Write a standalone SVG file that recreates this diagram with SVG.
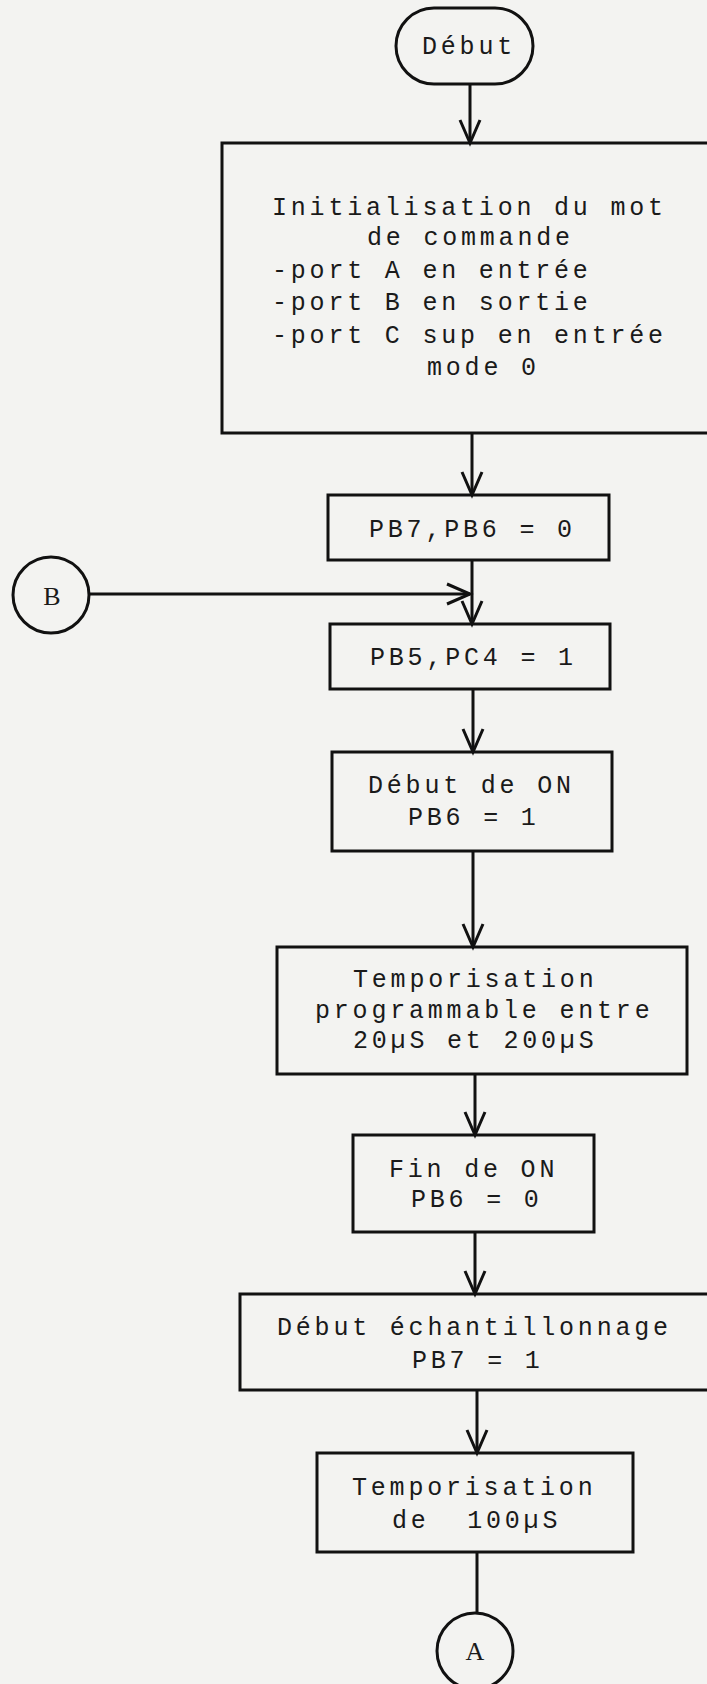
<svg xmlns="http://www.w3.org/2000/svg" width="707" height="1684" viewBox="0 0 707 1684">
<style>
.bx{fill:none;stroke:#111;stroke-width:3}
.cn{fill:none;stroke:#111;stroke-width:3}
.t{font-family:"Liberation Mono",monospace;font-size:25px;letter-spacing:3.8px;fill:#1a1a1a}
.c{font-family:"Liberation Serif",serif;font-size:26px;fill:#1a1a1a;text-anchor:middle}
</style>
<defs>
<marker id="ah" markerUnits="userSpaceOnUse" markerWidth="30" markerHeight="30" viewBox="-26 -13 30 26" refX="0" refY="0" orient="auto">
<path d="M-23,-10 L0,0 L-23,10" fill="none" stroke="#111" stroke-width="3"/>
</marker>
</defs>
<rect width="707" height="1684" fill="#f3f3f1"/>
<g id="connectors">
<line class="cn" x1="470" y1="84" x2="470" y2="143" marker-end="url(#ah)"/>
<line class="cn" x1="472" y1="433" x2="472" y2="495" marker-end="url(#ah)"/>
<line class="cn" x1="472" y1="560" x2="472" y2="624" marker-end="url(#ah)"/>
<line class="cn" x1="89" y1="594" x2="470" y2="594" marker-end="url(#ah)"/>
<line class="cn" x1="473" y1="689" x2="473" y2="752" marker-end="url(#ah)"/>
<line class="cn" x1="473" y1="851" x2="473" y2="947" marker-end="url(#ah)"/>
<line class="cn" x1="475" y1="1074" x2="475" y2="1135" marker-end="url(#ah)"/>
<line class="cn" x1="475" y1="1232" x2="475" y2="1294" marker-end="url(#ah)"/>
<line class="cn" x1="477" y1="1390" x2="477" y2="1453" marker-end="url(#ah)"/>
<line class="cn" x1="477" y1="1552" x2="477" y2="1613"/>
</g>
<g id="debut">
<rect class="bx" x="396" y="8" width="137" height="76" rx="38"/>
<text class="t" x="422" y="54">Début</text>
</g>
<g id="init">
<rect class="bx" x="222" y="143" width="500" height="290"/>
<text class="t" x="272" y="215">Initialisation du mot</text>
<text class="t" x="367" y="245">de commande</text>
<text class="t" x="272" y="278">-port A en entrée</text>
<text class="t" x="272" y="310">-port B en sortie</text>
<text class="t" x="272" y="343">-port C sup en entrée</text>
<text class="t" x="427" y="375">mode 0</text>
</g>
<g id="pb7pb6">
<rect class="bx" x="328" y="495" width="281" height="65"/>
<text class="t" x="369" y="537">PB7,PB6 = 0</text>
</g>
<g id="connB">
<circle class="bx" cx="51" cy="595" r="38"/>
<text class="c" x="52" y="605">B</text>
</g>
<g id="pb5pc4">
<rect class="bx" x="330" y="624" width="280" height="65"/>
<text class="t" x="370" y="665">PB5,PC4 = 1</text>
</g>
<g id="debutON">
<rect class="bx" x="332" y="752" width="280" height="99"/>
<text class="t" x="368" y="793">Début de ON</text>
<text class="t" x="408" y="825">PB6 = 1</text>
</g>
<g id="tempo1">
<rect class="bx" x="277" y="947" width="410" height="127"/>
<text class="t" x="353" y="987">Temporisation</text>
<text class="t" x="315" y="1018">programmable entre</text>
<text class="t" x="353" y="1048">20µS et 200µS</text>
</g>
<g id="finON">
<rect class="bx" x="353" y="1135" width="241" height="97"/>
<text class="t" x="389" y="1177">Fin de ON</text>
<text class="t" x="411" y="1207">PB6 = 0</text>
</g>
<g id="debutEch">
<rect class="bx" x="240" y="1294" width="480" height="96"/>
<text class="t" x="277" y="1335">Début échantillonnage</text>
<text class="t" x="412" y="1368">PB7 = 1</text>
</g>
<g id="tempo2">
<rect class="bx" x="317" y="1453" width="316" height="99"/>
<text class="t" x="352" y="1495">Temporisation</text>
<text class="t" x="392" y="1528" xml:space="preserve">de  100µS</text>
</g>
<g id="connA">
<circle class="bx" cx="475" cy="1651" r="38"/>
<text class="c" x="475" y="1660">A</text>
</g>
</svg>
